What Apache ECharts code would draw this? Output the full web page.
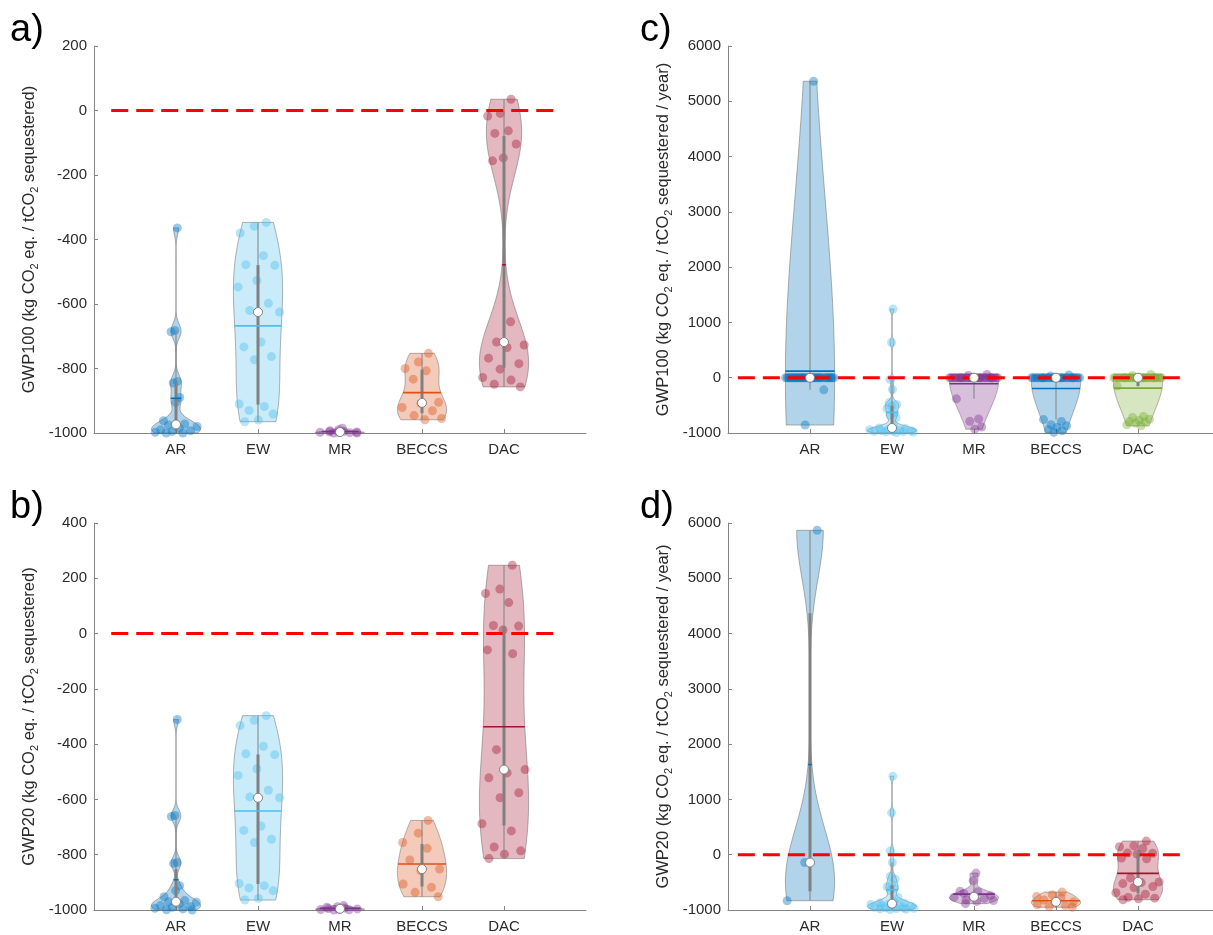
<!DOCTYPE html>
<html>
<head>
<meta charset="utf-8">
<script src="https://cdn.jsdelivr.net/npm/echarts@6/dist/echarts.min.js"></script>
<style>
html,body{margin:0;padding:0;background:#ffffff;}
#chart{width:1213px;height:935px;}
</style>
</head>
<body>
<div id="chart"></div>
<script>
// ---------------- data ----------------
const categories = ['AR', 'EW', 'MR', 'BECCS', 'DAC'];

// a) GWP100, per tonne sequestered
const aAR    = [-364, -682, -686, -840, -845, -890, -905, -962, -972, -975, -980, -985, -990, -993, -995, -998, -1000, -1000];
const aEW    = [-347, -359, -380, -450, -478, -480, -527, -547, -598, -620, -625, -718, -733, -763, -773, -910, -918, -930, -941, -960, -965];
const aMR    = [-985, -990, -993, -995, -996, -997, -998, -998, -999, -1000, -1000];
const aBECCS = [-753, -780, -800, -807, -833, -905, -908, -921, -931, -946, -955, -959];
const aDAC   = [35, -9, -17, -63, -71, -104, -147, -156, -655, -718, -727, -735, -768, -785, -802, -828, -836, -849, -857];

// b) GWP20, per tonne sequestered
const bAR    = [-311, -658, -662, -828, -832, -912, -930, -952, -966, -970, -972, -978, -984, -988, -990, -994, -996, -999, -1000];
const bEW    = [-297, -314, -333, -408, -435, -438, -489, -513, -567, -591, -594, -696, -712, -744, -756, -904, -912, -920, -930, -958, -964];
const bMR    = [-984, -988, -990, -993, -995, -996, -997, -998, -999, -1000];
const bBECCS = [-676, -722, -756, -777, -819, -852, -858, -906, -918, -936, -952];
const bDAC   = [247, 161, 145, 112, 29, 27, 13, -59, -73, -420, -492, -504, -522, -576, -594, -688, -714, -772, -786, -798, -814];

// c) GWP100, per tonne sequestered per year
const cAR    = [5363, 0, 0, 0, 0, 0, 0, 0, 0, 0, 0, 0, 0, 0, 0, 0, 0, 0, 0, 0, 0, 0, 0, 0, 0, 0, 0, 0, 0, 0, 0, 0, 0, 0, -219, -856];
const cEW    = [1242, 636, -31, -213, -450, -485, -516, -560, -636, -680, -727, -870, -909, -920, -930, -940, -950, -955, -960, -965, -970, -975, -980, -985, -990];
const cMR    = [60, 40, 0, 0, 0, 0, 0, 0, 0, 0, 0, 0, 0, 0, 0, 0, 0, 0, 0, 0, 0, 0, 0, 0, 0, 0, 0, 0, -382, -745, -789, -891, -930];
const cBECCS = [50, 30, 0, 0, 0, 0, 0, 0, 0, 0, 0, 0, 0, 0, 0, 0, 0, 0, 0, 0, 0, 0, 0, 0, 0, 0, 0, 0, -758, -790, -849, -870, -900, -940, -960, -989];
const cDAC   = [60, 40, 0, 0, 0, 0, 0, 0, 0, 0, 0, 0, 0, 0, 0, 0, 0, 0, 0, 0, 0, 0, 0, 0, 0, 0, 0, 0, -152, -700, -720, -750, -770, -790, -800, -820, -850, -870];

// d) GWP20, per tonne sequestered per year
const dAR    = [5868, -141, -832];
const dEW    = [1421, 761, 69, -140, -392, -441, -531, -580, -609, -650, -771, -850, -870, -880, -890, -900, -910, -920, -930, -940, -950, -960, -960, -970, -975, -980, -985, -990];
const dMR    = [-333, -472, -660, -670, -700, -740, -760, -770, -790, -814, -830, -844, -885];
const dBECCS = [-676, -722, -756, -777, -819, -852, -858, -906, -918, -936, -952];
const dDAC   = [247, 161, 145, 112, 29, 27, 13, -59, -73, -420, -492, -504, -522, -576, -594, -688, -714, -772, -786, -798, -814];

// y axis limits [min, max, step]
const yLimA = [-1000, 200, 200];
const yLimB = [-1000, 400, 200];
const yLimC = [-1000, 6000, 1000];
const yLimD = [-1000, 6000, 1000];

// reference line at zero: [x start, x end, y]
const zeroLineLeft  = [0.21, 5.6, 0];
const zeroLineRight = [0.12, 5.52, 0];

const titleA = 'GWP100 (kg CO{s|2} eq. / tCO{s|2} sequestered)';
const titleB = 'GWP20 (kg CO{s|2} eq. / tCO{s|2} sequestered)';
const titleC = 'GWP100 (kg CO{s|2} eq. / tCO{s|2} sequestered / year)';
const titleD = 'GWP20 (kg CO{s|2} eq. / tCO{s|2} sequestered / year)';

// ---------------- styling ----------------
const FONT = '"Liberation Sans", Arial, Helvetica, sans-serif';
const C_BLUE = '#0072BD', C_LIGHT = '#4DBEEE', C_PURPLE = '#7E2F8E', C_ORANGE = '#D95319', C_RED = '#A2142F', C_GREEN = '#77AC30';
const colorsStd = [C_BLUE, C_LIGHT, C_PURPLE, C_ORANGE, C_RED];
const colorsC   = [C_BLUE, C_LIGHT, C_PURPLE, C_BLUE, C_GREEN];
const VIOLIN_HALF = 0.3;

function rgba(hex, a) {
  const n = parseInt(hex.slice(1), 16);
  return 'rgba(' + ((n >> 16) & 255) + ',' + ((n >> 8) & 255) + ',' + (n & 255) + ',' + a + ')';
}

// MATLAB-style quantile
function quantileM(sorted, p) {
  const n = sorted.length;
  const pos = n * p + 0.5;
  if (pos <= 1) return sorted[0];
  if (pos >= n) return sorted[n - 1];
  const lo = Math.floor(pos), f = pos - lo;
  return sorted[lo - 1] + f * (sorted[lo] - sorted[lo - 1]);
}

// violin statistics as in the MATLAB violinplot (ksdensity, normal kernel)
function violinStats(data) {
  const s = data.slice().sort((a, b) => a - b);
  const n = s.length;
  const med = quantileM(s, 0.5), q1 = quantileM(s, 0.25), q3 = quantileM(s, 0.75);
  const mean = data.reduce((a, b) => a + b, 0) / n;
  const dev = data.map(v => Math.abs(v - med)).sort((a, b) => a - b);
  let sig = quantileM(dev, 0.5) / 0.6745;
  if (!(sig > 0)) sig = s[n - 1] - s[0];
  const bw = sig > 0 ? sig * Math.pow(4 / (3 * n), 0.2) : 1;
  const M = 100, grid = [], dens = [];
  const lo = s[0], hi = s[n - 1];
  for (let k = 0; k < M; k++) {
    const v = (hi === lo) ? lo : lo + (hi - lo) * k / (M - 1);
    let d = 0;
    for (const x of s) { const z = (v - x) / bw; d += Math.exp(-0.5 * z * z); }
    grid.push(v); dens.push(d);
  }
  const dmax = Math.max(...dens);
  const hw = dens.map(d => VIOLIN_HALF * d / dmax);
  const iqr = q3 - q1;
  let wl = q1 - 1.5 * iqr;
  const above = s.filter(v => v > wl);
  wl = Math.max(wl, above.length ? Math.min(...above) : q1);
  let wh = q3 + 1.5 * iqr;
  const below = s.filter(v => v < wh);
  wh = Math.min(wh, below.length ? Math.max(...below) : q3);
  return { s, med, q1, q3, mean, grid, hw, min: lo, max: hi, wl, wh };
}

function hwAt(st, v) {
  const g = st.grid;
  if (g[g.length - 1] === g[0]) return st.hw[0];
  if (v <= g[0]) return st.hw[0];
  if (v >= g[g.length - 1]) return st.hw[g.length - 1];
  for (let k = 1; k < g.length; k++) {
    if (v <= g[k]) {
      const t = (v - g[k - 1]) / (g[k] - g[k - 1]);
      return st.hw[k - 1] + t * (st.hw[k] - st.hw[k - 1]);
    }
  }
  return 0;
}

const panels = [
  { data: [aAR, aEW, aMR, aBECCS, aDAC], colors: colorsStd, lim: yLimA, title: titleA, zero: zeroLineLeft,  letter: 'a)', box: [94, 46, 492, 387], lx: 10 },
  { data: [bAR, bEW, bMR, bBECCS, bDAC], colors: colorsStd, lim: yLimB, title: titleB, zero: zeroLineLeft,  letter: 'b)', box: [94, 523, 492, 387], lx: 10 },
  { data: [cAR, cEW, cMR, cBECCS, cDAC], colors: colorsC,   lim: yLimC, title: titleC, zero: zeroLineRight, letter: 'c)', box: [728, 46, 492, 387], lx: 640 },
  { data: [dAR, dEW, dMR, dBECCS, dDAC], colors: colorsStd, lim: yLimD, title: titleD, zero: zeroLineRight, letter: 'd)', box: [728, 523, 492, 387], lx: 640 }
];

const grids = [], xAxes = [], yAxes = [], series = [], graphics = [];

panels.forEach((p, gi) => {
  const stats = p.data.map(violinStats);
  grids.push({ left: p.box[0], top: p.box[1], width: p.box[2], height: p.box[3], containLabel: false, outerBoundsMode: 'none' });
  xAxes.push({
    type: 'value', gridIndex: gi, min: 0, max: 6, interval: 1,
    axisLine: { show: true, onZero: false, lineStyle: { color: '#858585', width: 1 } },
    axisTick: { show: true, inside: true, length: 4, customValues: [1, 2, 3, 4, 5], lineStyle: { color: '#858585' } },
    axisLabel: { show: true, customValues: [1, 2, 3, 4, 5], margin: 9, color: '#2b2b2b', fontSize: 15, fontFamily: FONT,
      formatter: v => categories[Math.round(v) - 1] || '' },
    splitLine: { show: false }
  });
  yAxes.push({
    type: 'value', gridIndex: gi, min: p.lim[0], max: p.lim[1], interval: p.lim[2],
    axisLine: { show: true, onZero: false, lineStyle: { color: '#858585', width: 1 } },
    axisTick: { show: true, inside: true, length: 4, lineStyle: { color: '#858585' } },
    axisLabel: { margin: 7, color: '#2b2b2b', fontSize: 15, fontFamily: FONT, formatter: v => String(v) },
    splitLine: { show: false },
    name: p.title, nameLocation: 'middle', nameRotate: 90, nameGap: 54,
    nameTextStyle: { fontSize: 16.5, fontFamily: FONT, color: '#2b2b2b', lineHeight: 22,
      rich: { s: { fontSize: 11, lineHeight: 11, verticalAlign: 'bottom', fontFamily: FONT, color: '#2b2b2b' } } }
  });

  // violins
  series.push({
    type: 'custom', xAxisIndex: gi, yAxisIndex: gi, z: 1, silent: true, clip: false,
    data: stats.map((st, i) => [i + 1, st.med]),
    encode: { x: 0, y: 1 },
    renderItem: (params, api) => {
      const i = params.dataIndex, st = stats[i], pos = i + 1;
      const right = st.grid.map((v, k) => api.coord([pos + st.hw[k], v]));
      const left = st.grid.map((v, k) => api.coord([pos - st.hw[k], v])).reverse();
      const pts = [api.coord([pos, st.min])].concat(right, [api.coord([pos, st.max])], left);
      return { type: 'polygon', shape: { points: pts },
        style: { fill: rgba(p.colors[i], 0.3), stroke: 'rgba(95,95,95,0.6)', lineWidth: 0.8 } };
    }
  });

  // jittered points
  stats.forEach((st, i) => {
    const pos = i + 1;
    const pts = p.data[i].map((v, j) => {
      const u = (((j + 1) * 0.6180339887 + 0.15) % 1) * 2 - 1;
      return [pos + u * hwAt(st, v), v];
    });
    series.push({
      type: 'scatter', xAxisIndex: gi, yAxisIndex: gi, z: 2, silent: true,
      symbol: 'circle', symbolSize: 9, data: pts,
      itemStyle: { color: p.colors[i], opacity: 0.4, borderWidth: 0 }
    });
  });

  // zero reference line
  series.push({
    type: 'line', xAxisIndex: gi, yAxisIndex: gi, z: 3, silent: true, showSymbol: false, symbol: 'none',
    data: [[p.zero[0], p.zero[2]], [p.zero[1], p.zero[2]]],
    lineStyle: { color: '#ff0000', width: 3, type: [17, 8], cap: 'butt' }
  });

  // whiskers, boxes, means, medians
  series.push({
    type: 'custom', xAxisIndex: gi, yAxisIndex: gi, z: 4, silent: true, clip: false,
    data: stats.map((st, i) => [i + 1, st.med]),
    encode: { x: 0, y: 1 },
    renderItem: (params, api) => {
      const i = params.dataIndex, st = stats[i], pos = i + 1;
      const pHi = api.coord([pos, st.wh]), pLo = api.coord([pos, st.wl]);
      const y1 = api.coord([pos, st.q1])[1], y3 = api.coord([pos, st.q3])[1];
      const mw = hwAt(st, st.mean);
      const m1 = api.coord([pos - mw, st.mean]), m2 = api.coord([pos + mw, st.mean]);
      const md = api.coord([pos, st.med]);
      return { type: 'group', children: [
        { type: 'line', shape: { x1: pHi[0], y1: pHi[1], x2: pLo[0], y2: pLo[1] }, style: { stroke: '#808080', lineWidth: 1 } },
        { type: 'rect', shape: { x: md[0] - 1.5, y: Math.min(y1, y3), width: 3, height: Math.max(0.5, Math.abs(y1 - y3)) }, style: { fill: '#808080' } },
        { type: 'line', shape: { x1: m1[0], y1: m1[1], x2: m2[0], y2: m2[1] }, style: { stroke: p.colors[i], lineWidth: 1.6 } },
        { type: 'circle', shape: { cx: md[0], cy: md[1], r: 4.5 }, style: { fill: '#ffffff', stroke: '#808080', lineWidth: 1 } }
      ] };
    }
  });

  graphics.push({
    type: 'text', left: p.lx, top: p.box[1] - 34,
    style: { text: p.letter, font: '38px ' + FONT, fill: '#000000' }
  });
});

const chart = echarts.init(document.getElementById('chart'), null, { renderer: 'canvas' });
chart.setOption({
  animation: false,
  backgroundColor: '#ffffff',
  grid: grids,
  xAxis: xAxes,
  yAxis: yAxes,
  series: series,
  graphic: graphics
});
</script>
</body>
</html>
